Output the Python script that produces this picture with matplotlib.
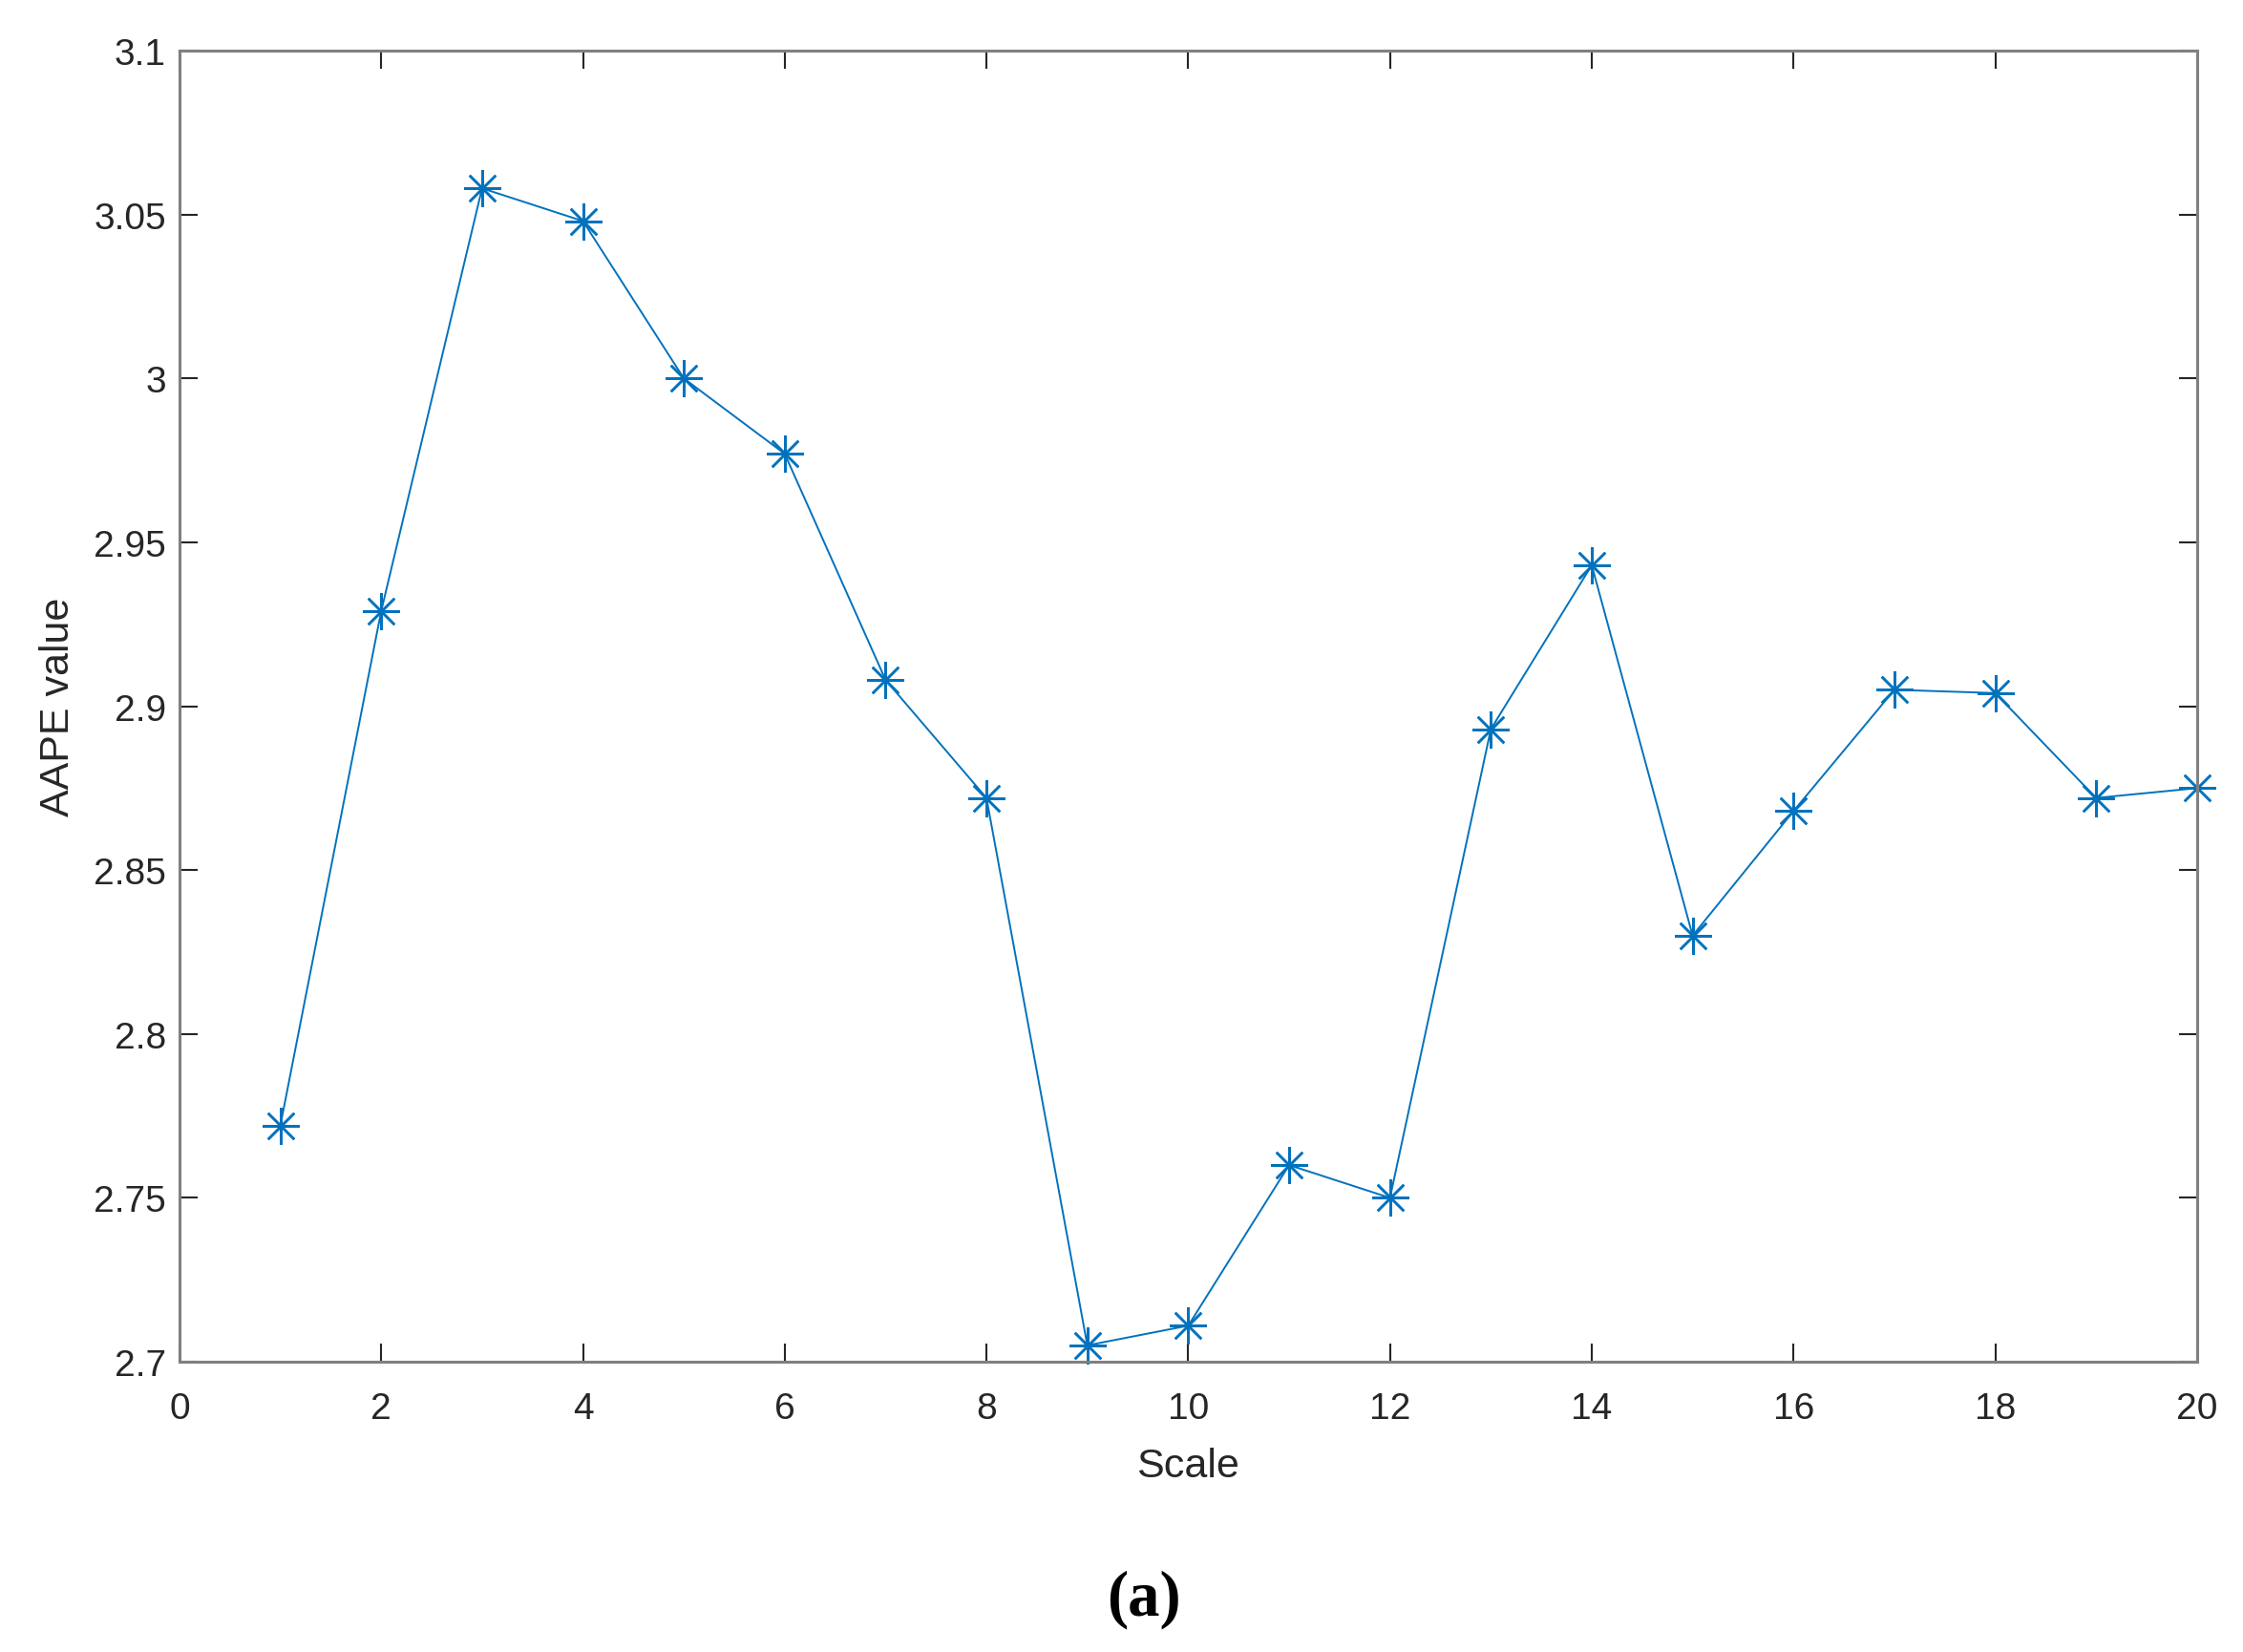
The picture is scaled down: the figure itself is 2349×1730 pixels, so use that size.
import numpy as np
import matplotlib.pyplot as plt

scale = [1, 2, 3, 4, 5, 6, 7, 8, 9, 10, 11, 12, 13, 14, 15, 16, 17, 18, 19, 20]
aape = [2.772, 2.929, 3.058, 3.048, 3.000, 2.977, 2.908, 2.872, 2.705, 2.711,
        2.760, 2.750, 2.893, 2.943, 2.830, 2.868, 2.905, 2.904, 2.872, 2.875]

xticks = np.arange(0, 21, 2)
yticks = [2.7, 2.75, 2.8, 2.85, 2.9, 2.95, 3.0, 3.05, 3.1]
ytick_labels = ['2.7', '2.75', '2.8', '2.85', '2.9', '2.95', '3', '3.05', '3.1']

plt.rcParams['font.family'] = ['Liberation Sans', 'DejaVu Sans']

fig = plt.figure(figsize=(23.49, 17.31), dpi=100)
ax = fig.add_axes([0.0800, 0.1756, 0.8995, 0.7932])

ax.plot(scale, aape, '-', color='#0072BD', linewidth=1.4,
        marker=(8, 2, 0), markersize=28, markeredgewidth=1.8, clip_on=False)

ax.set_xlim(0, 20)
ax.set_ylim(2.7, 3.1)
ax.set_xticks(xticks)
ax.set_yticks(yticks)
ax.set_yticklabels(ytick_labels)

for s in ax.spines.values():
    s.set_color('#808080')
    s.set_linewidth(2.2)
ax.tick_params(direction='in', length=14, width=1.5, color='#262626',
               labelcolor='#262626', labelsize=28, top=True, right=True,
               pad=22)
ax.tick_params(axis='y', pad=10)

ax.set_xlabel('Scale', fontsize=31, color='#262626', labelpad=16)
ax.set_ylabel('AAPE value', fontsize=31, color='#262626', labelpad=12)

fig.text(0.51, 0.032, '(a)', fontsize=48, fontweight='bold',
         family=['Liberation Serif', 'DejaVu Serif'], ha='center', va='center')

fig.savefig('out.png', dpi=100)
